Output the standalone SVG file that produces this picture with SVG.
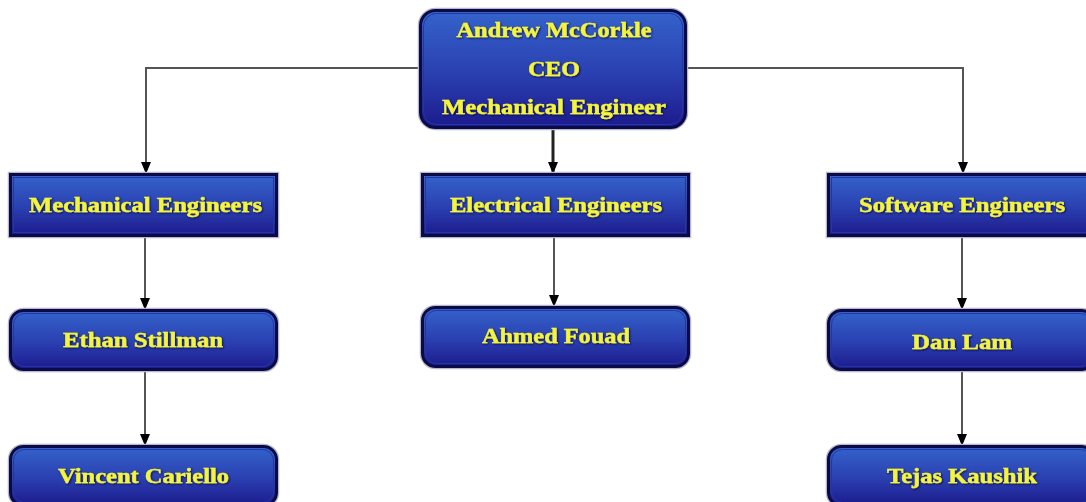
<svg xmlns="http://www.w3.org/2000/svg" width="1086" height="502" viewBox="0 0 1086 502">
<defs>
<linearGradient id="g" x1="0" y1="0" x2="0" y2="1">
<stop offset="0" stop-color="#3463cc"/>
<stop offset="0.55" stop-color="#2a3fb0"/>
<stop offset="1" stop-color="#1c1a8c"/>
</linearGradient>
<marker id="arr" viewBox="0 0 12 10" refX="12" refY="5" markerWidth="12" markerHeight="10" orient="auto" markerUnits="userSpaceOnUse">
<path d="M0,0 L12,5 L0,10 Z" fill="#000"/>
</marker>
<filter id="ts" x="-10%" y="-30%" width="120%" height="160%">
<feGaussianBlur in="SourceAlpha" stdDeviation="0.8" result="b"/>
<feOffset dx="0.5" dy="1" result="o"/>
<feFlood flood-color="#0a0a40" flood-opacity="0.8"/>
<feComposite in2="o" operator="in" result="s"/>
<feMerge><feMergeNode in="s"/><feMergeNode in="SourceGraphic"/></feMerge>
</filter>
</defs>
<style>
.box{fill:url(#g);stroke:#0a0a48;stroke-width:3}
.halo{fill:none;stroke:#b8b8c8;stroke-width:1.5}
.inner{fill:none;stroke:#2238a0;stroke-width:1}
.t{font-family:"Liberation Serif","Times New Roman",serif;font-weight:bold;font-size:20px;fill:#f4f43c;stroke:#f4f43c;stroke-width:0.4;text-anchor:middle;filter:url(#ts)}
.c{fill:none;stroke:#555;stroke-width:2;marker-end:url(#arr)}
</style>
<g id="connectors">
<path class="c" d="M420,68 H146 V174"/>
<path class="c" d="M686,68 H963 V174"/>
<path class="c" d="M553,128 V174" style="stroke:#222;stroke-width:3"/>
<path class="c" d="M145,236 V310"/>
<path class="c" d="M145,370 V446"/>
<path class="c" d="M554,236 V307"/>
<path class="c" d="M962,236 V310"/>
<path class="c" d="M962,370 V446"/>
</g>
<g id="ceo">
<rect class="halo" x="418.5" y="8.5" width="269" height="121" rx="17"/>
<rect class="box" x="420.5" y="10.5" width="265" height="117" rx="15"/>
<rect class="inner" x="423.5" y="13.5" width="259" height="111" rx="13"/>
<text class="t" x="554" y="37" textLength="195" lengthAdjust="spacingAndGlyphs">Andrew McCorkle</text>
<text class="t" x="554" y="76" textLength="52" lengthAdjust="spacingAndGlyphs">CEO</text>
<text class="t" x="554" y="114" textLength="224" lengthAdjust="spacingAndGlyphs">Mechanical Engineer</text>
</g>
<g id="mech-eng">
<rect class="halo" x="8.5" y="172.5" width="270" height="65"/>
<rect class="box" x="10.5" y="174.5" width="266" height="61"/>
<rect class="inner" x="13.5" y="177.5" width="260" height="55"/>
<text class="t" x="145.5" y="212" textLength="233" lengthAdjust="spacingAndGlyphs">Mechanical Engineers</text>
</g>
<g id="elec-eng">
<rect class="halo" x="420.5" y="172.5" width="270" height="65"/>
<rect class="box" x="422.5" y="174.5" width="266" height="61"/>
<rect class="inner" x="425.5" y="177.5" width="260" height="55"/>
<text class="t" x="556" y="212" textLength="212" lengthAdjust="spacingAndGlyphs">Electrical Engineers</text>
</g>
<g id="soft-eng">
<rect class="halo" x="826.5" y="172.5" width="270" height="65"/>
<rect class="box" x="828.5" y="174.5" width="266" height="61"/>
<rect class="inner" x="831.5" y="177.5" width="260" height="55"/>
<text class="t" x="962" y="212" textLength="206" lengthAdjust="spacingAndGlyphs">Software Engineers</text>
</g>
<g id="ethan">
<rect class="halo" x="8.5" y="308.5" width="270" height="63" rx="15"/>
<rect class="box" x="10.5" y="310.5" width="266" height="59" rx="13"/>
<rect class="inner" x="13.5" y="313.5" width="260" height="53" rx="11"/>
<text class="t" x="143" y="347" textLength="160" lengthAdjust="spacingAndGlyphs">Ethan Stillman</text>
</g>
<g id="vincent">
<rect class="halo" x="8.5" y="444.5" width="270" height="63" rx="15"/>
<rect class="box" x="10.5" y="446.5" width="266" height="59" rx="13"/>
<rect class="inner" x="13.5" y="449.5" width="260" height="53" rx="11"/>
<text class="t" x="143.5" y="483" textLength="171" lengthAdjust="spacingAndGlyphs">Vincent Cariello</text>
</g>
<g id="ahmed">
<rect class="halo" x="420.5" y="305.5" width="270" height="63" rx="15"/>
<rect class="box" x="422.5" y="307.5" width="266" height="59" rx="13"/>
<rect class="inner" x="425.5" y="310.5" width="260" height="53" rx="11"/>
<text class="t" x="556" y="343" textLength="148" lengthAdjust="spacingAndGlyphs">Ahmed Fouad</text>
</g>
<g id="dan">
<rect class="halo" x="826.5" y="308.5" width="270" height="63" rx="15"/>
<rect class="box" x="828.5" y="310.5" width="266" height="59" rx="13"/>
<rect class="inner" x="831.5" y="313.5" width="260" height="53" rx="11"/>
<text class="t" x="962" y="349" textLength="100" lengthAdjust="spacingAndGlyphs">Dan Lam</text>
</g>
<g id="tejas">
<rect class="halo" x="826.5" y="444.5" width="270" height="63" rx="15"/>
<rect class="box" x="828.5" y="446.5" width="266" height="59" rx="13"/>
<rect class="inner" x="831.5" y="449.5" width="260" height="53" rx="11"/>
<text class="t" x="962" y="483" textLength="150" lengthAdjust="spacingAndGlyphs">Tejas Kaushik</text>
</g>
</svg>
